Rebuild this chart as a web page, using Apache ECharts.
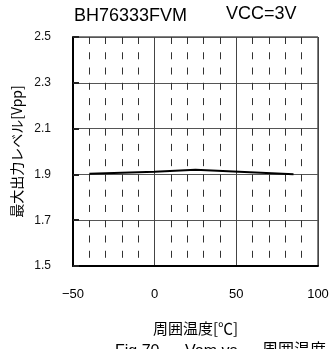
<!DOCTYPE html>
<html><head><meta charset="utf-8">
<script src="https://cdn.jsdelivr.net/npm/echarts@6/dist/echarts.min.js"></script>
<style>html,body{margin:0;padding:0;background:#fff}#c{width:332px;height:349px}</style>
</head><body><div id="c"></div>
<script>
var temps = [-40, 0, 25, 85];
var vom = [1.903, 1.912, 1.92, 1.901];
var xTicks = [-50, 0, 50, 100];
var yTicks = [1.5, 1.7, 1.9, 2.1, 2.3, 2.5];

var chart = echarts.init(document.getElementById('c'), null, {renderer: 'canvas'});
var lat = '"Liberation Sans", Arial, sans-serif';
var jp = '"Noto Sans CJK JP", "Liberation Sans", sans-serif';
chart.setOption({
  animation: false,
  backgroundColor: '#fff',
  title: [
    {text: 'BH76333FVM', left: 69, top: 2, textStyle: {fontFamily: lat, fontSize: 18, fontWeight: 'normal', color: '#000'}},
    {text: 'VCC=3V', left: 221, top: 0, textStyle: {fontFamily: lat, fontSize: 18, fontWeight: 'normal', color: '#000'}}
  ],
  graphic: [
    {type: 'text', left: 115, top: 344, style: {text: 'Fig.70', font: '16px ' + lat, fill: '#000'}},
    {type: 'text', left: 185, top: 344, style: {text: 'Vom vs.', font: '16px ' + lat, fill: '#000'}},
    {type: 'text', left: 262, top: 341, style: {text: '周囲温度', font: '16px ' + jp, fill: '#000'}}
  ],
  grid: {left: 73, right: 14, top: 37, bottom: 83, show: true, borderColor: '#000', borderWidth: 1, backgroundColor: '#fff'},
  xAxis: {
    type: 'value', min: xTicks[0], max: xTicks[xTicks.length - 1], interval: 50,
    axisLine: {show: true, onZero: false, lineStyle: {color: '#000', width: 2}},
    axisTick: {show: false},
    minorTick: {show: false, splitNumber: 5},
    splitLine: {show: true, lineStyle: {color: '#444', width: 1}},
    minorSplitLine: {show: true, lineStyle: {color: '#333', width: 1, type: [7, 8.27]}},
    axisLabel: {margin: 22, fontFamily: lat, fontSize: 13, color: '#000',
      formatter: function (v) { return String(v).replace('-', '\u2212'); }},
    name: '周囲温度[℃]', nameLocation: 'middle', nameGap: 55,
    nameTextStyle: {fontFamily: jp, fontSize: 15, color: '#000'}
  },
  yAxis: {
    type: 'value', min: yTicks[0], max: yTicks[yTicks.length - 1], interval: 0.2,
    axisLine: {show: true, onZero: false, lineStyle: {color: '#000', width: 2}},
    axisTick: {show: true, inside: true, length: 6, lineStyle: {color: '#222', width: 2}},
    splitLine: {show: true, lineStyle: {color: '#555', width: 1}},
    axisLabel: {margin: 22, fontFamily: lat, fontSize: 12, color: '#111',
      formatter: function (v) { return v.toFixed(1); }},
    name: '最大出力レベル[Vpp]', nameLocation: 'middle', nameGap: 49, nameRotate: 90,
    nameTextStyle: {fontFamily: jp, fontSize: 14, color: '#000'}
  },
  series: [{
    type: 'line', showSymbol: false, symbol: 'none',
    data: temps.map(function (t, i) { return [t, vom[i]]; }),
    lineStyle: {color: '#000', width: 2}
  }]
});
</script></body></html>
